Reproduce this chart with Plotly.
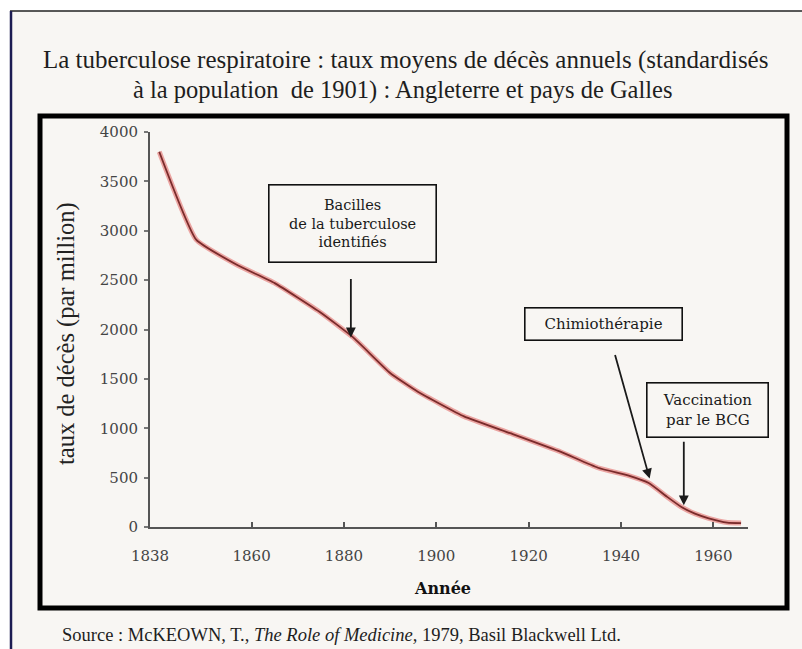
import plotly.graph_objects as go

# ---- data ----
years = [1840, 1848, 1857, 1865, 1875, 1882, 1890, 1896, 1906, 1916,
         1927, 1935, 1942, 1946, 1950, 1953, 1956, 1959, 1963, 1966]
rates = [3800, 2910, 2650, 2470, 2170, 1920, 1560, 1370, 1120, 950,
         760, 600, 515, 445, 305, 205, 135, 88, 45, 40]

x_ticks = [1838, 1860, 1880, 1900, 1920, 1940, 1960]
y_ticks = [0, 500, 1000, 1500, 2000, 2500, 3000, 3500, 4000]

title_lines = ["La tuberculose respiratoire : taux moyens de décès annuels (standardisés",
               "à la population  de 1901) : Angleterre et pays de Galles"]
y_title = "taux de décès (par million)"
x_title = "Année"
source = "Source : McKEOWN, T., <i>The Role of Medicine,</i> 1979, Basil Blackwell Ltd."

events = [
    # text, year, rate, arrow dx, arrow dy, box center px, box size px, font size
    ("Bacilles<br>de la tuberculose<br>identifiés", 1881.5, 1920, 0, -60, (352, 223), (166, 76), 14.5),
    ("Chimiothérapie", 1946.2, 490, -35, -125, (603, 323.5), (156, 31), 15),
    ("Vaccination<br>par le BCG", 1953.6, 220, 0, -65, (707, 409.5), (120, 53), 15),
]

# ---- geometry ----
W, H = 802, 649
L, R, T, B = 150, 748, 132, 527


def px(x):
    return (x - L) / (R - L)


def py(y):
    return (B - y) / (B - T)


BG = "#f8f6f3"

fig = go.Figure()
fig.add_trace(go.Scatter(x=years, y=rates, mode="lines",
                         line=dict(color="#eba5a2", width=5, shape="spline", smoothing=0.4),
                         hoverinfo="skip", showlegend=False))
fig.add_trace(go.Scatter(x=years, y=rates, mode="lines",
                         line=dict(color="#7a2b2b", width=1.8, shape="spline", smoothing=0.4),
                         showlegend=False))

shapes = [
    # page background inside outer border
    dict(type="rect", xref="paper", yref="paper", x0=px(11), x1=px(W + 5), y0=py(H + 5), y1=py(11),
         fillcolor=BG, line=dict(width=0), layer="below"),
    # outer thin border (top and left)
    dict(type="line", xref="paper", yref="paper", x0=px(10), x1=px(W + 5), y0=py(11), y1=py(11),
         line=dict(color="#222222", width=1.5)),
    dict(type="line", xref="paper", yref="paper", x0=px(11), x1=px(11), y0=py(11), y1=py(H + 5),
         line=dict(color="#1c1c52", width=2.5)),
    # thick inner frame
    dict(type="rect", xref="paper", yref="paper", x0=px(40), x1=px(787), y0=py(608), y1=py(116),
         line=dict(color="#000000", width=5)),
]

annotations = [
    dict(text=title_lines[0], x=px(405), y=py(60), xref="paper", yref="paper", showarrow=False,
         xanchor="center", yanchor="middle", font=dict(family="Liberation Serif", size=25, color="#1e1e1e")),
    dict(text=title_lines[1], x=px(403), y=py(90), xref="paper", yref="paper", showarrow=False,
         xanchor="center", yanchor="middle", font=dict(family="Liberation Serif", size=24.5, color="#1e1e1e")),
    dict(text=y_title, x=px(66), y=py(334), xref="paper", yref="paper", showarrow=False, textangle=-90,
         xanchor="center", yanchor="middle", font=dict(family="Liberation Serif", size=24.5, color="#222222")),
    dict(text="<b>" + x_title + "</b>", x=px(442), y=py(588), xref="paper", yref="paper", showarrow=False,
         xanchor="center", yanchor="middle", font=dict(family="DejaVu Serif", size=16, color="#111111")),
    dict(text=source, x=px(60), y=py(635), xref="paper", yref="paper", showarrow=False,
         xanchor="left", yanchor="middle", font=dict(family="Liberation Serif", size=18.5, color="#1e1e1e")),
]

for text, yr, rt, dx, dy, (cx, cy), (bw, bh), fs in events:
    annotations.append(dict(text=text, x=px(cx), y=py(cy), xref="paper", yref="paper", showarrow=False,
                            xanchor="center", yanchor="middle", width=bw, height=bh, align="center",
                            valign="middle", bordercolor="#111111", borderwidth=1.6, borderpad=0,
                            bgcolor=BG,
                            font=dict(family="DejaVu Serif", size=fs, color="#1a1a1a")))
    annotations.append(dict(text="", x=yr, y=rt, xref="x", yref="y", showarrow=True, ax=dx, ay=dy,
                            arrowhead=2, arrowsize=1.1, arrowwidth=1.8, arrowcolor="#1a1a1a",
                            standoff=0))

fig.update_layout(
    width=W, height=H,
    margin=dict(l=L, r=W - R, t=T, b=H - B, pad=0),
    paper_bgcolor="#ffffff", plot_bgcolor=BG,
    shapes=shapes, annotations=annotations,
    xaxis=dict(range=[1838, 1967.5], tickvals=x_ticks, ticktext=[str(v) for v in x_ticks],
               showgrid=False, zeroline=False, showline=True, linecolor="#555555", linewidth=2,
               ticks="inside", ticklen=5, tickwidth=1.5, tickcolor="#555555", ticklabelstandoff=14,
               tickfont=dict(family="DejaVu Serif", size=15, color="#444444")),
    yaxis=dict(range=[0, 4000], tickvals=y_ticks, ticktext=[str(v) for v in y_ticks],
               showgrid=False, zeroline=False, showline=True, linecolor="#555555", linewidth=2,
               ticks="outside", ticklen=4, tickwidth=1.5, tickcolor="#777777", ticklabelstandoff=3,
               tickfont=dict(family="DejaVu Serif", size=15, color="#444444")),
)

fig.write_html("out.html", config={"displayModeBar": False},
               post_script="document.body.style.margin='0px';document.body.style.overflow='hidden';")
